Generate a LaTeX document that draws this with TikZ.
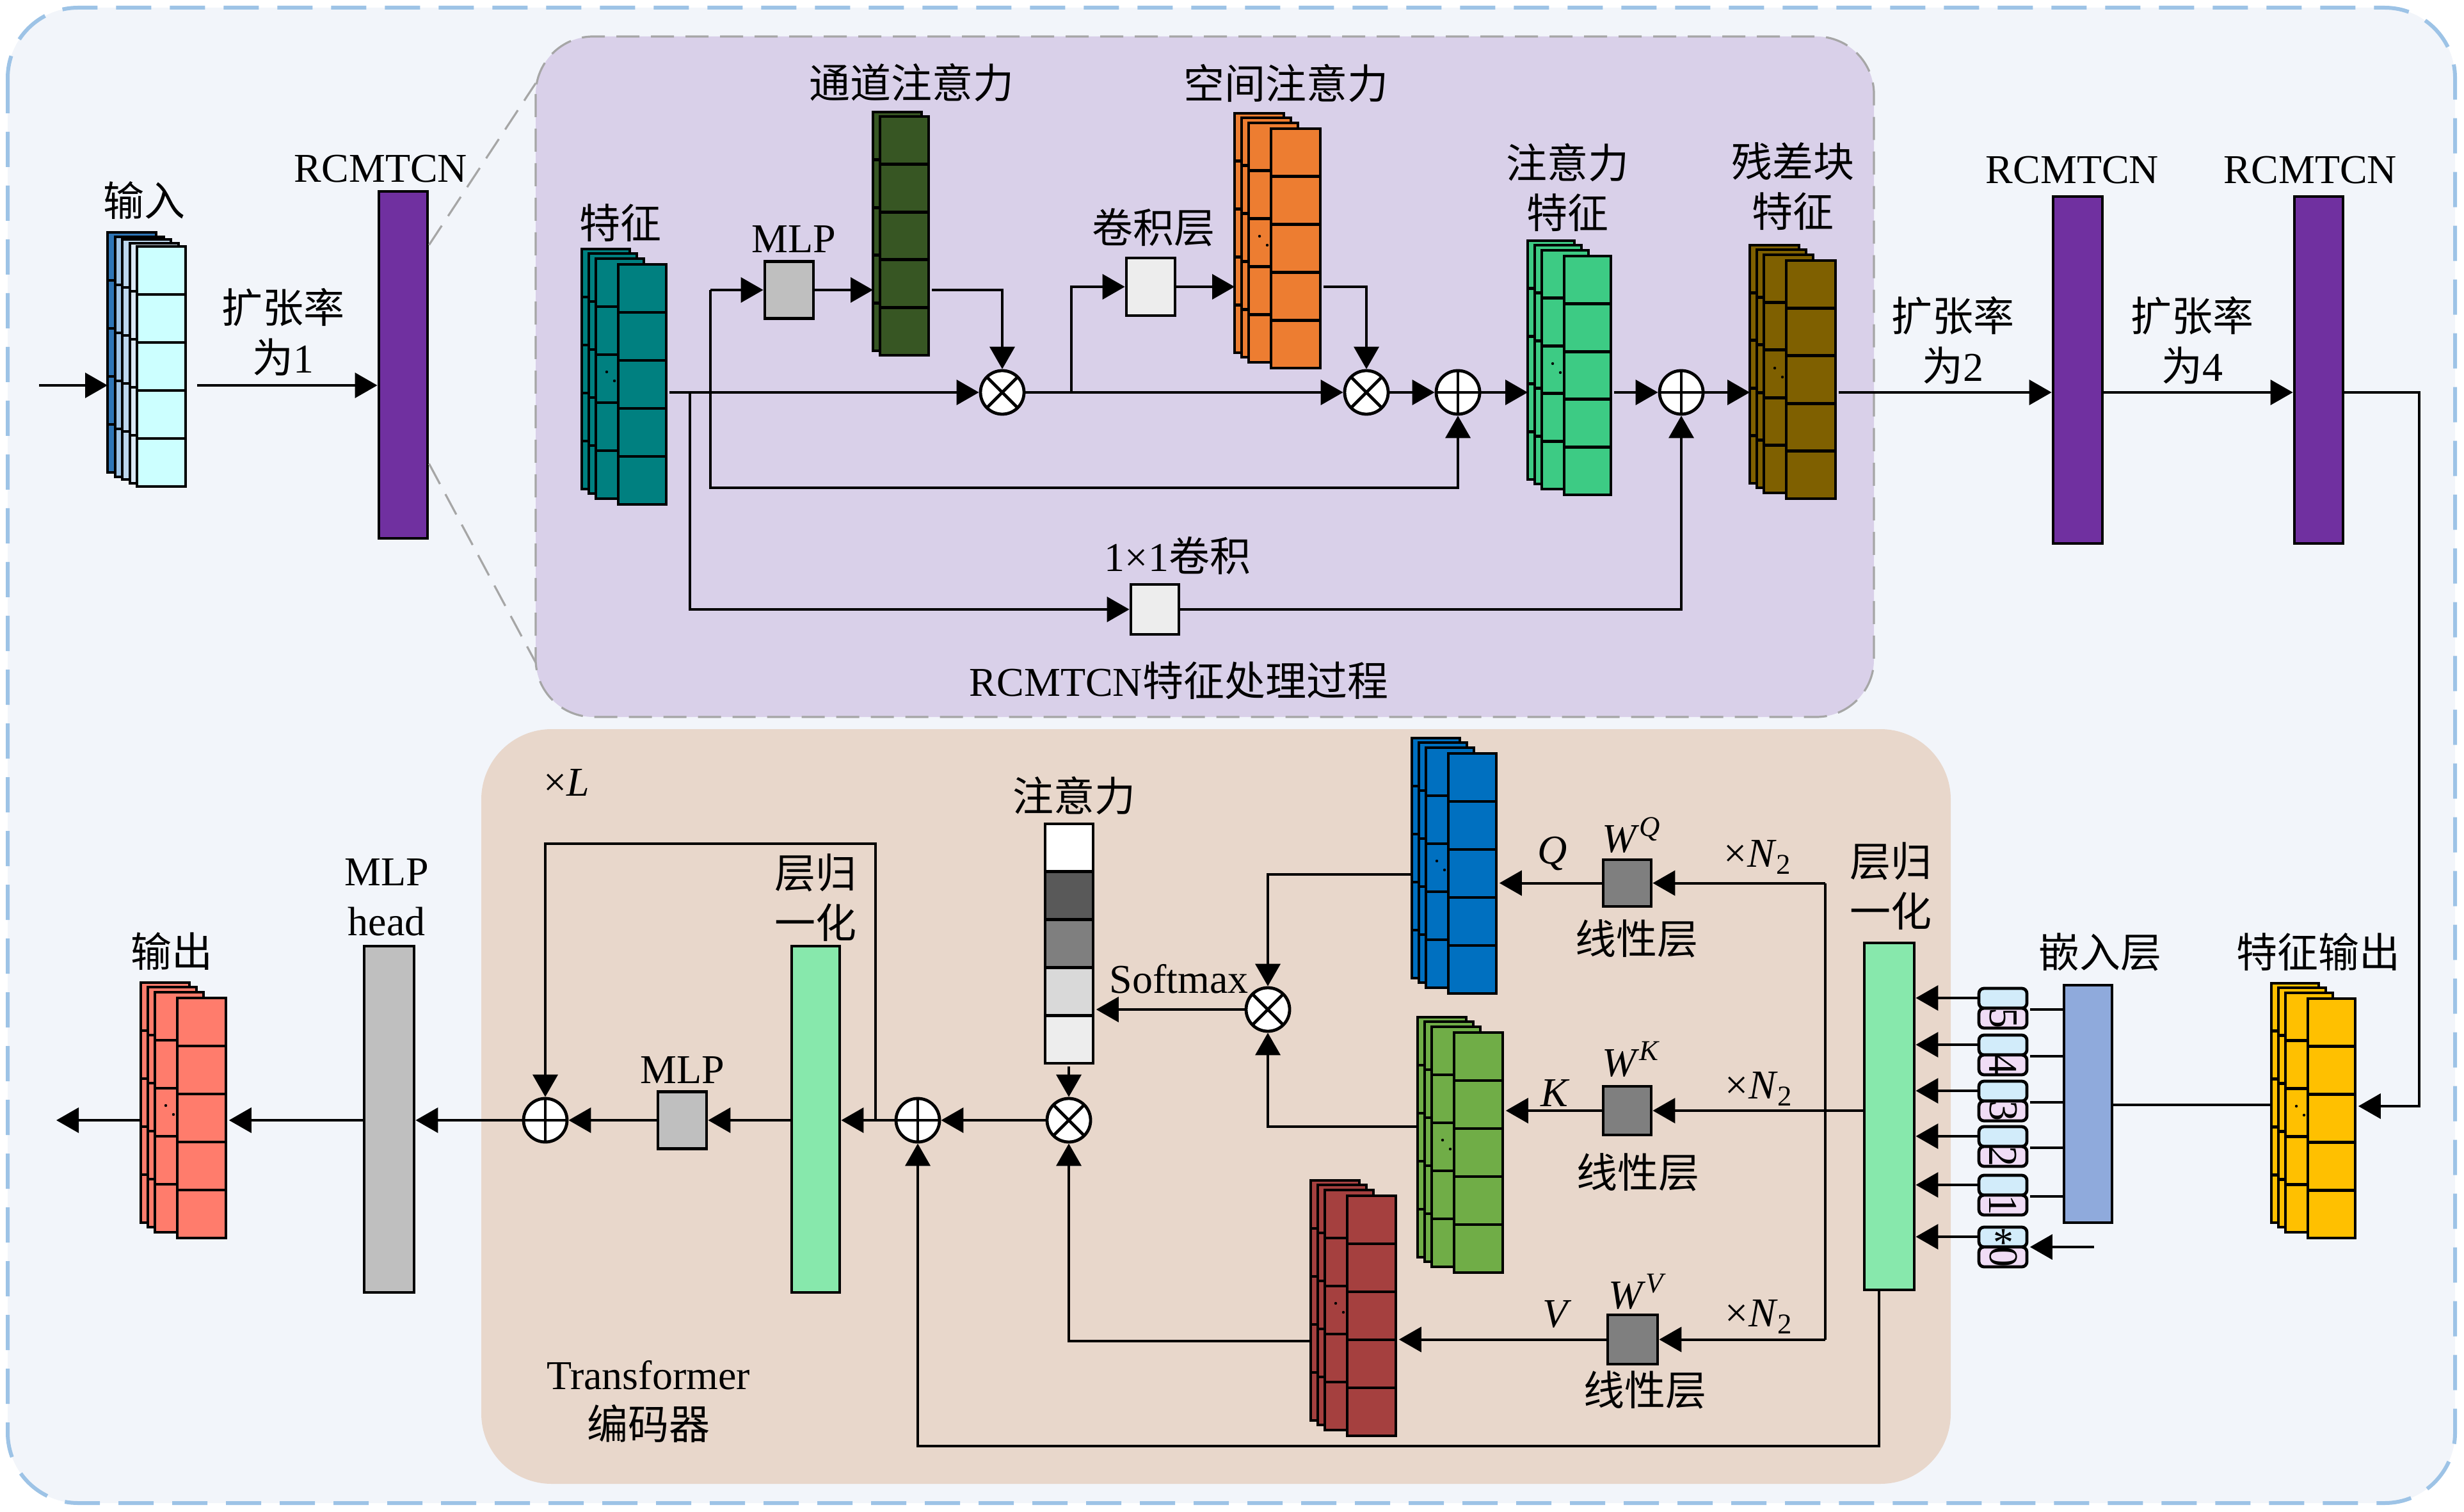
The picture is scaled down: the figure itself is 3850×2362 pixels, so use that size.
\documentclass[tikz,border=0pt]{standalone}
\usepackage{fontspec}
\setmainfont{Liberation Serif}
\newfontfamily\zhfont{Noto Sans CJK SC}
\newcommand{\zh}[1]{{\zhfont #1}}
\usetikzlibrary{arrows.meta,calc}

\definecolor{bgblue}{HTML}{F2F5FA}
\definecolor{bordblue}{HTML}{9DC3E6}
\definecolor{lav}{HTML}{D9D0E9}
\definecolor{beige}{HTML}{E8D7CB}
\definecolor{dashgray}{HTML}{A6A6A6}
\definecolor{purp}{HTML}{7030A0}
\definecolor{tealc}{HTML}{008080}
\definecolor{dgreen}{HTML}{375623}
\definecolor{orangec}{HTML}{ED7D31}
\definecolor{lgreen}{HTML}{3DCB84}
\definecolor{brownc}{HTML}{7F6000}
\definecolor{yellowc}{HTML}{FFC000}
\definecolor{embc}{HTML}{8FAADC}
\definecolor{lnc}{HTML}{87E8AC}
\definecolor{qc}{HTML}{0070C0}
\definecolor{kc}{HTML}{70AD47}
\definecolor{vc}{HTML}{A5403F}
\definecolor{outc}{HTML}{FF7C6C}
\definecolor{grayc}{HTML}{BFBFBF}
\definecolor{lightc}{HTML}{EDEDED}
\definecolor{wc}{HTML}{7F7F7F}
\definecolor{dk1}{HTML}{595959}
\definecolor{lt1}{HTML}{D9D9D9}
\definecolor{tokblue}{HTML}{D2ECFA}
\definecolor{tokpink}{HTML}{F0DCF5}
\definecolor{in1}{HTML}{2E75B6}
\definecolor{in2}{HTML}{9DC3E6}
\definecolor{in3}{HTML}{BDD7EE}
\definecolor{in4}{HTML}{DAE8F5}
\definecolor{in5}{HTML}{CCFFFF}

\tikzset{
  shp/.style={draw=black, line width=1.2pt},
  conn/.style={draw=black, line width=1pt},
  arr/.style={conn, -{Triangle[length=8.75pt,width=9.75pt]}},
  gdash/.style={draw=dashgray, line width=0.8pt, dash pattern=on 9pt off 4.5pt},
  lbl/.style={inner sep=0pt, align=center},
  barbox/.style={shp, rectangle, inner sep=0pt},
  otimesnode/.style={circle, shp, fill=white, minimum size=17pt, inner sep=0pt,
    path picture={\draw[line width=1.2pt] (path picture bounding box.north west) -- (path picture bounding box.south east)
      (path picture bounding box.north east) -- (path picture bounding box.south west);}},
  oplusnode/.style={circle, shp, fill=white, minimum size=17pt, inner sep=0pt,
    path picture={\draw[line width=1.2pt] (path picture bounding box.north) -- (path picture bounding box.south)
      (path picture bounding box.east) -- (path picture bounding box.west);}},
}

% one feature-map layer: x, y (top-left), w, h, colour
\newcommand{\fmlayer}[5]{%
  \filldraw[shp, fill=#5] (#1,#2) rectangle ({#1+#3},{#2+#4});%
  \foreach \k in {1,2,3,4}{\draw[shp] (#1,{#2+\k*#4/5}) -- ({#1+#3},{#2+\k*#4/5});}%
}
% four-layer stack: name, x, y (front top-left), w, h, colour
\newcommand{\fmstack}[6]{%
  \fmlayer{#2-57}{#3-24}{#4}{#5}{#6}%
  \fmlayer{#2-46}{#3-17}{#4}{#5}{#6}%
  \fmlayer{#2-35}{#3-9}{#4}{#5}{#6}%
  \fill ({#2-18},{#3+168}) circle (0.55pt) ({#2-6},{#3+182}) circle (0.55pt);%
  \fmlayer{#2}{#3}{#4}{#5}{#6}%
  \node[inner sep=0pt, outer sep=0.6pt, minimum width={(#4+57)*0.25pt}, minimum height={(#5+24)*0.25pt}, anchor=north west] (#1) at ({#2-57},{#3-24}) {};%
}
% token: name, top y, digit
\newcommand{\token}[3]{%
  \filldraw[shp, fill=tokblue, rounded corners=2pt] (3092,#2) rectangle (3167,{#2+31});%
  \filldraw[shp, fill=tokpink, rounded corners=2pt] (3092,{#2+31}) rectangle (3167,{#2+62});%
  \node[inner sep=0pt, outer sep=0.6pt, minimum width=18.75pt, minimum height=15.5pt, anchor=north west] (#1) at (3092,#2) {};%
  \node[inner sep=0pt, rotate=-90] (#1-d) at (3130,{#2+46.5}) {#3};%
}

\begin{document}
\begin{tikzpicture}[x=0.25pt, y=-0.25pt, font=\fontsize{16pt}{19.5pt}\selectfont]
\useasboundingbox (0,0) rectangle (3850,2362);

% ---------- backgrounds ----------
\filldraw[fill=bgblue, draw=bordblue, line width=1.5pt, dash pattern=on 13.75pt off 7.25pt, rounded corners=27.5pt]
  (12,12) rectangle (3836,2348);
\filldraw[fill=lav, gdash, rounded corners=22.5pt] (837,57) rectangle (2928,1120);
\fill[beige, rounded corners=27.5pt] (752,1139) rectangle (3048,2318);

% ---------- input ----------
\fmlayer{168}{363}{76}{375}{in1}
\fmlayer{180}{370}{76}{375}{in2}
\fmlayer{191}{374}{76}{375}{in3}
\fmlayer{203}{380}{76}{375}{in4}
\fmlayer{214}{385}{76}{375}{in5}
\node[inner sep=0pt, outer sep=0.6pt, minimum width=30.5pt, minimum height=99.25pt, anchor=north west] (inp) at (168,363) {};
\node[lbl] (lbl-in) at (225,313) {\zh{输入}};
\coordinate (in0) at (61,602);

% ---------- RCMTCN bars ----------
\node[barbox, fill=purp, minimum width=19pt, minimum height=135.5pt] (r1) at (630,570) {};
\node[barbox, fill=purp, minimum width=19.25pt, minimum height=135.5pt] (r2) at (3246.5,578) {};
\node[barbox, fill=purp, minimum width=19pt, minimum height=135.5pt] (r3) at (3623,578) {};
\node[lbl] (lbl-r1) at (595,264) {RCMTCN};
\node[lbl] (lbl-r2) at (3238,266) {RCMTCN};
\node[lbl] (lbl-r3) at (3610,266) {RCMTCN};
\node[lbl] (lbl-d1) at (442,519) {\zh{扩张率}\\\zh{为}1};
\node[lbl] (lbl-d2) at (3051,532) {\zh{扩张率}\\\zh{为}2};
\node[lbl] (lbl-d4) at (3425,532) {\zh{扩张率}\\\zh{为}4};

\coordinate (pb-top) at (837,130);
\coordinate (pb-bot) at (837,1035);
\draw[gdash] ($(r1.north east)+(0,86)$) -- (pb-top);
\draw[gdash] ($(r1.south east)+(0,-119)$) -- (pb-bot);

\draw[arr] (in0) -- (in0 -| inp.west);
\draw[arr] ($(inp.east |- in0)+(13,0)$) -- (in0 -| r1.west);

% ---------- RCMTCN internal ----------
\fmstack{teal}{966}{413}{75}{375}{tealc}
\node[lbl] (lbl-feat) at (969,348) {\zh{特征}};

\node[barbox, fill=grayc, minimum width=19pt, minimum height=22.25pt] (mlp1) at (1233,453) {};
\node[lbl] (lbl-mlp1) at (1240,374) {MLP};

\fmlayer{1364}{175}{76}{373}{dgreen}
\fmlayer{1375}{182}{76}{373}{dgreen}
\node[inner sep=0pt, outer sep=0.6pt, minimum width=21.75pt, minimum height=95pt, anchor=north west] (cha) at (1364,175) {};
\node[lbl] (lbl-cha) at (1424,129) {\zh{通道注意力}};

\node[barbox, fill=lightc, minimum width=19pt, minimum height=22.5pt] (conv) at (1798,448) {};
\node[lbl] (lbl-conv) at (1802,355) {\zh{卷积层}};

\fmstack{spa}{1986}{201}{77}{374}{orangec}
\node[lbl] (lbl-spa) at (2009,130) {\zh{空间注意力}};

\fmstack{att}{2444}{400}{73}{373}{lgreen}
\node[lbl] (lbl-att) at (2449,293) {\zh{注意力}\\\zh{特征}};

\fmstack{res}{2791}{407}{77}{372}{brownc}
\node[lbl] (lbl-res) at (2801,291) {\zh{残差块}\\\zh{特征}};

\node[otimesnode] (ox1) at (1566,613) {};
\node[otimesnode] (ox2) at (2135,613) {};
\node[oplusnode] (op1) at (2278,613) {};
\node[oplusnode] (op2) at (2627,613) {};

\node[barbox, fill=lightc, minimum width=18.75pt, minimum height=19.5pt] (c11) at (1804.5,952) {};
\node[lbl] (lbl-c11) at (1840,868) {1×1\zh{卷积}};
\node[lbl] (lbl-proc) at (1842,1063) {RCMTCN\zh{特征处理过程}};

\coordinate (b1) at (1110,613);
\coordinate (lowrow) at (1110,762);
\coordinate (b2) at (1674,613);
\coordinate (b3) at (1078,613);

\draw[arr] (teal.east |- ox1) -- (ox1);
\draw[arr] (mlp1.west -| b1) -- (mlp1.west);
\draw[arr] (mlp1.west -| b1) -- (lowrow) -| (op1.south);
\draw[arr] (mlp1.east) -- (mlp1.east -| cha.west);
\draw[arr] (cha.east |- mlp1) -| (ox1.north);
\draw[arr] (ox1) -- (ox2);
\draw[arr] (b2) |- (conv.west);
\draw[arr] (conv.east) -- (conv.east -| spa.west);
\draw[arr] (spa.east |- conv) -| (ox2.north);
\draw[arr] (ox2) -- (op1);
\draw[arr] (op1) -- (op1 -| att.west);
\draw[arr] (att.east |- op2) -- (op2);
\draw[arr] (op2) -- (op2 -| res.west);
\draw[arr] (b3) |- (c11.west);
\draw[arr] (c11.east) -| (op2.south);

% ---------- to the right ----------
\coordinate (rc) at (3780,1728);
\draw[arr] (res.east |- op2) -- (op2 -| r2.west);
\draw[arr] (r2.east |- op2) -- (op2 -| r3.west);

\fmstack{fout}{3606}{1560}{74}{374}{yellowc}
\node[lbl] (lbl-fout) at (3622,1487) {\zh{特征输出}};
\draw[arr] (r3.east |- op2) -| (rc) -- (rc -| fout.east);

\node[barbox, fill=embc, minimum width=18.75pt, minimum height=92.75pt] (emb) at (3262.5,1724.5) {};
\node[lbl] (lbl-emb) at (3281,1487) {\zh{嵌入层}};
\coordinate (embrow) at (3400,1726);
\draw[conn] (embrow -| fout.west) -- (embrow -| emb.east);

% ---------- tokens ----------
\token{tok5}{1544}{5}
\token{tok4}{1617}{4}
\token{tok3}{1689}{3}
\token{tok2}{1760}{2}
\token{tok1}{1836}{1}
\token{tok0}{1917}{0}
\node[inner sep=0pt, anchor=base] (tok0-s) at (3130,1962) {*};

\node[barbox, fill=lnc, minimum width=19.5pt, minimum height=135.5pt] (ln2) at (2952,1744) {};
\node[lbl] (lbl-ln2) at (2954,1384) {\zh{层归}\\\zh{一化}};

\foreach \t in {tok5,tok4,tok3,tok2,tok1}{
  \draw[conn] (emb.west |- \t.east) -- (\t.east);
}
\foreach \t in {tok5,tok4,tok3,tok2,tok1,tok0}{
  \draw[arr] ($(\t.north west)+(0,15)$) coordinate (tmp) -- (tmp -| ln2.east);
}
\coordinate (tin) at (3272,1948);
\draw[arr] (tin) -- (tin -| tok0.east);

% ---------- attention ----------
\node[barbox, fill=wc, minimum width=18.75pt, minimum height=18.25pt] (wq) at (2542.5,1379.5) {};
\node[barbox, fill=wc, minimum width=18.75pt, minimum height=19pt] (wk) at (2542.5,1735) {};
\node[barbox, fill=wc, minimum width=19.5pt, minimum height=19.25pt] (wv) at (2551,2092.5) {};

\fmstack{qs}{2263}{1177}{75}{375}{qc}
\fmstack{ks}{2272}{1613}{76}{375}{kc}
\fmstack{vs}{2105}{1868}{76}{375}{vc}

\node[lbl] (lbl-q) at (2426,1333) {\textit{Q}};
\node[lbl] (lbl-wq) at (2550,1305) {\textit{W}\textsuperscript{\textit{Q}}};
\node[lbl] (lbl-lq) at (2557,1466) {\zh{线性层}};
\node[lbl] (lbl-nq) at (2747,1339) {×\textit{N}\textsubscript{2}};
\node[lbl] (lbl-k) at (2430,1708) {\textit{K}};
\node[lbl] (lbl-wk) at (2549,1655) {\textit{W}\textsuperscript{\textit{K}}};
\node[lbl] (lbl-lk) at (2559,1831) {\zh{线性层}};
\node[lbl] (lbl-nk) at (2749,1701) {×\textit{N}\textsubscript{2}};
\node[lbl] (lbl-v) at (2433,2053) {\textit{V}};
\node[lbl] (lbl-wv) at (2559,2018) {\textit{W}\textsuperscript{\textit{V}}};
\node[lbl] (lbl-lv) at (2570,2171) {\zh{线性层}};
\node[lbl] (lbl-nv) at (2749,2057) {×\textit{N}\textsubscript{2}};

\coordinate (vq) at (2852,1379.5);
\coordinate (vv) at (2852,2092.5);
\draw[conn] (vq) -- (vv);
\draw[arr] (ln2.west |- wk) -- (wk.east);
\draw[arr] (vq) -- (wq.east);
\draw[arr] (vv) -- (wv.east);
\draw[arr] (wq.west) -- (wq.west -| qs.east);
\draw[arr] (wk.west) -- (wk.west -| ks.east);
\draw[arr] (wv.west) -- (wv.west -| vs.east);

\node[otimesnode] (ox3) at (1981,1577) {};
\coordinate (qrow) at (2100,1366);
\coordinate (krow) at (2100,1760);
\coordinate (vrow) at (1900,2095);
\draw[arr] (qs.west |- qrow) -| (ox3.north);
\draw[arr] (ks.west |- krow) -| (ox3.south);

% attention column
\foreach \c [count=\i from 0] in {white,dk1,wc,lt1,lightc}{
  \filldraw[shp, fill=\c] (1633,{1287+\i*74.8}) rectangle (1708,{1287+(\i+1)*74.8});
}
\node[inner sep=0pt, outer sep=0.6pt, minimum width=18.75pt, minimum height=93.5pt, anchor=north west] (attcol) at (1633,1287) {};
\node[lbl] (lbl-attn) at (1678,1243) {\zh{注意力}};
\node[lbl] (lbl-soft) at (1842,1529) {Softmax};
\draw[arr] (ox3) -- (ox3 -| attcol.east);

\node[otimesnode] (ox4) at (1670,1750) {};
\node[oplusnode] (op4) at (1434,1750) {};
\node[oplusnode] (op5) at (852,1750) {};
\draw[arr] (attcol.south -| ox4) -- (ox4);
\draw[arr] (vs.west |- vrow) -| (ox4.south);
\draw[arr] (ox4) -- (op4);

\coordinate (lnb) at (2936,2259);
\draw[arr] (ln2.south -| lnb) -- (lnb) -| (op4.south);

\node[barbox, fill=lnc, minimum width=18.75pt, minimum height=135.25pt] (ln1) at (1274.5,1748.5) {};
\node[lbl] (lbl-ln1) at (1274,1402) {\zh{层归}\\\zh{一化}};
\node[barbox, fill=grayc, minimum width=19pt, minimum height=22.25pt] (mlp2) at (1066,1750) {};
\node[lbl] (lbl-mlp2) at (1066,1672) {MLP};

\coordinate (jn) at (1368,1750);
\coordinate (loop) at (1368,1318);
\draw[arr] (op4) -- (op4 -| ln1.east);
\draw[arr] (jn) -- (loop) -| (op5.north);
\draw[arr] (ln1.west |- op5) -- (mlp2);
\draw[arr] (mlp2) -- (op5);

\node[lbl] (lbl-L) at (885,1223) {×\textit{L}};
\node[lbl] (lbl-tr) at (1013,2190) {Transformer\\\zh{编码器}};

% ---------- output ----------
\node[barbox, fill=grayc, minimum width=19.5pt, minimum height=135.25pt] (head) at (608,1748.5) {};
\node[lbl] (lbl-head) at (604,1402) {MLP\\head};
\fmstack{outs}{277}{1559}{76}{375}{outc}
\node[lbl] (lbl-out) at (268,1486) {\zh{输出}};
\coordinate (outend) at (88,1750);
\draw[arr] (op5) -- (op5 -| head.east);
\draw[arr] (head.west |- op5) -- (op5 -| outs.east);
\draw[arr] (outs.west |- op5) -- (outend);

\end{tikzpicture}
\end{document}
